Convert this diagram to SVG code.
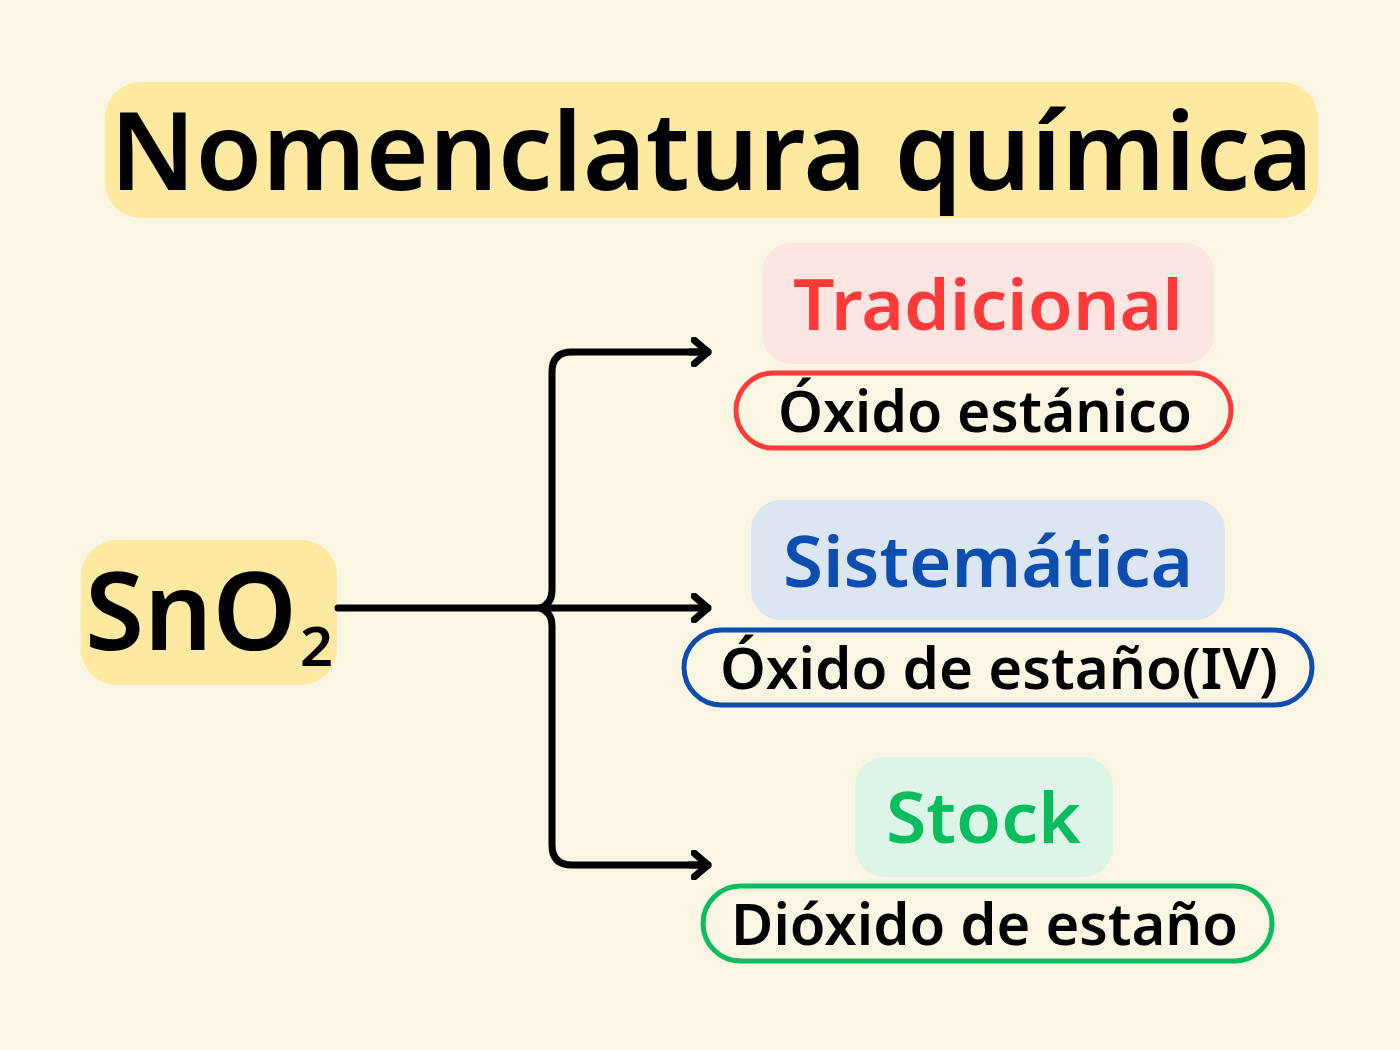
<svg xmlns="http://www.w3.org/2000/svg" width="1400" height="1050" viewBox="0 0 1400 1050">
<defs>
<style>
text{font-family:"Noto Sans","Open Sans","DejaVu Sans",sans-serif;font-weight:600;}
.conn{fill:none;stroke:#000;stroke-width:7;stroke-linecap:round;stroke-linejoin:round;}
.pill{fill:#FAF6E3;stroke-width:5;}
</style>
<marker id="arr" viewBox="0 0 20 30" refX="17" refY="15" markerWidth="20" markerHeight="30" markerUnits="userSpaceOnUse" orient="auto">
<path d="M3 3 L17 15 L3 27" fill="none" stroke="#000" stroke-width="7" stroke-linecap="round" stroke-linejoin="round"/>
</marker>
</defs>
<rect width="1400" height="1050" fill="#FAF6E3"/>
<g id="title">
<rect x="105" y="82" width="1213" height="136" rx="36" fill="#FDE9A0"/>
<text x="110" y="190" font-size="108" textLength="1203" lengthAdjust="spacingAndGlyphs" fill="#000">Nomenclatura química</text>
</g>
<g id="formula">
<rect x="81" y="540" width="256" height="145" rx="36" fill="#FDE9A0"/>
<text x="85" y="650" font-size="108" fill="#000"><tspan textLength="212" lengthAdjust="spacingAndGlyphs">SnO</tspan></text>
<text x="300" y="666" font-size="54" textLength="33" lengthAdjust="spacingAndGlyphs" fill="#000">2</text>
</g>
<g id="connectors">
<line class="conn" x1="338" y1="608" x2="708" y2="608" marker-end="url(#arr)"/>
<path class="conn" d="M708 352 H572 Q552 352 552 372 V590 Q552 604 540 608 Q552 612 552 626 V845 Q552 865 572 865 H708"/>
<line class="conn" x1="690" y1="352" x2="708" y2="352" marker-end="url(#arr)"/>
<line class="conn" x1="690" y1="865" x2="708" y2="865" marker-end="url(#arr)"/>
</g>
<g id="tradicional">
<rect x="762" y="243" width="452" height="121" rx="30" fill="#FDE6E2"/>
<text x="793" y="330" font-size="70" textLength="390" lengthAdjust="spacingAndGlyphs" fill="#FF3A3A">Tradicional</text>
</g>
<g id="oxido-estanico">
<rect class="pill" x="736" y="373" width="495" height="75" rx="37.5" stroke="#FF3A3A"/>
<text x="778" y="432" font-size="58" textLength="414" lengthAdjust="spacingAndGlyphs" fill="#000">Óxido estánico</text>
</g>
<g id="sistematica">
<rect x="751" y="500" width="474" height="120" rx="30" fill="#DCE5F2"/>
<text x="783" y="587" font-size="70" textLength="410" lengthAdjust="spacingAndGlyphs" fill="#0B4DB0">Sistemática</text>
</g>
<g id="oxido-de-estano-iv">
<rect class="pill" x="684" y="630" width="628" height="75" rx="37.5" stroke="#0B4DB0"/>
<text x="720" y="689" font-size="58" textLength="558" lengthAdjust="spacingAndGlyphs" fill="#000">Óxido de estaño(IV)</text>
</g>
<g id="stock">
<rect x="855" y="757" width="258" height="120" rx="30" fill="#DCF5E6"/>
<text x="886" y="843" font-size="70" textLength="195" lengthAdjust="spacingAndGlyphs" fill="#08BD5E">Stock</text>
</g>
<g id="dioxido-de-estano">
<rect class="pill" x="703" y="886" width="569" height="75" rx="37.5" stroke="#08BD5E"/>
<text x="731" y="945" font-size="58" textLength="507" lengthAdjust="spacingAndGlyphs" fill="#000">Dióxido de estaño</text>
</g>
</svg>
